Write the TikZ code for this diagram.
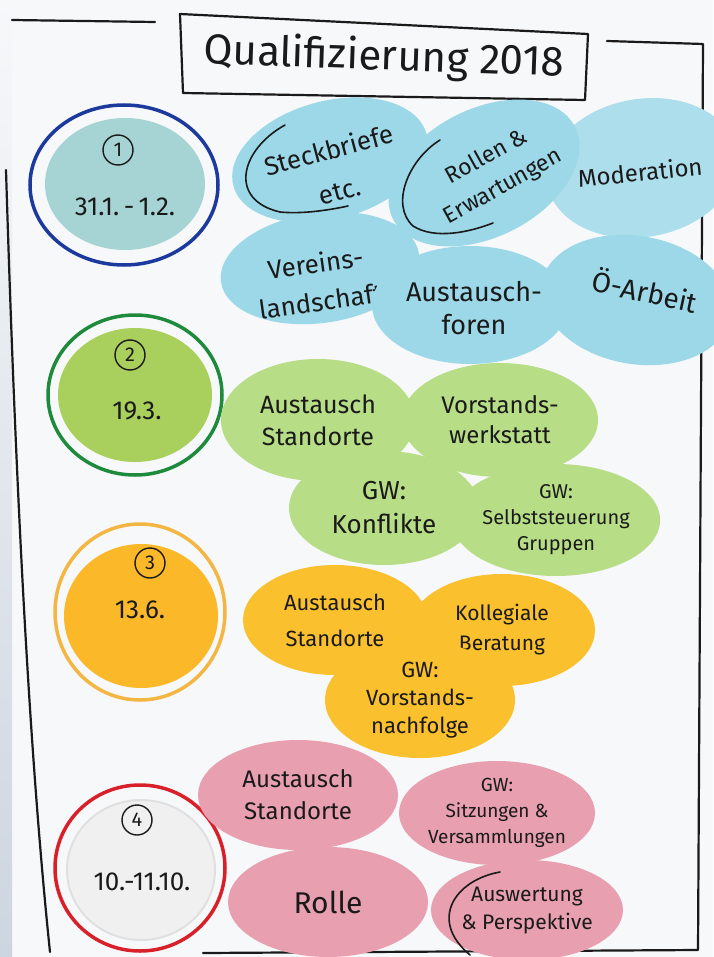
\documentclass[tikz,border=0pt]{standalone}
\usepackage{fontspec}
\setmainfont{Fira Sans}
\usetikzlibrary{shapes.geometric}

\definecolor{ink}{HTML}{1A1A1A}
\definecolor{paper}{HTML}{F7F8FA}
\definecolor{edge}{HTML}{CDD5E0}
\definecolor{cardblue}{HTML}{9DD8E8}
\definecolor{discteal}{HTML}{A6D4D4}
\definecolor{cardgreen}{HTML}{B7DD86}
\definecolor{discgreen}{HTML}{A9D05D}
\definecolor{cardorange}{HTML}{FBC02E}
\definecolor{discorange}{HTML}{FBB92A}
\definecolor{cardpink}{HTML}{E8A0B0}
\definecolor{discwhite}{HTML}{F0F0F0}
\definecolor{ringblue}{HTML}{1C3A9E}
\definecolor{ringgreen}{HTML}{1E8A3C}
\definecolor{ringorange}{HTML}{F4B643}
\definecolor{ringred}{HTML}{D8202A}

\tikzset{
  fs/.style 2 args={font=\fontsize{#1}{#2}\selectfont},
  card/.style={ellipse, inner sep=0pt, align=center, text=ink, fs={23}{29}},
  bluecard/.style={card, fill=cardblue},
  greencard/.style={card, fill=cardgreen},
  orangecard/.style={card, fill=cardorange},
  pinkcard/.style={card, fill=cardpink},
  ring/.style={ellipse, draw=#1, line width=3.5pt, inner sep=0pt},
  disc/.style={ellipse, fill=#1, inner sep=0pt},
  numbox/.style={circle, draw=ink, line width=1.4pt, inner sep=0pt,
    minimum size=30pt, text=ink, fs={20}{20}},
  datetext/.style={text=ink, fs={26}{26}},
  pen/.style={draw=ink, line width=2.2pt, line cap=round, line join=round},
  marker/.style={draw=ink, line width=1.6pt, line cap=round}
}

\begin{document}
\begin{tikzpicture}[x=1pt, y=-1pt]
    \useasboundingbox (0,0) rectangle (713,957);
    \fill[paper] (0,0) rectangle (713,957);
    \shade[top color=paper, bottom color=edge] (0,0) rectangle (12,957);

    % frame and title
    \draw[pen] (12,20) -- (155,22);
    \draw[pen] (607,41) -- (703,44) -- (698,950) -- (203,953);
    \draw[pen] (6,170) .. controls (16,500) and (30,760) .. (50,952);
    \draw[pen] (180,14) -- (588,34) -- (585,100) -- (183,93) -- cycle;
    \node[rotate=-2, text=ink, fs={42}{42}] (title) at (384,58) {Qualifizierung 2018};

    % 1
    \node[ring=ringblue, minimum width=188pt, minimum height=160pt] (ring1) at (124,185) {};
    \node[disc=discteal, minimum width=160pt, minimum height=132pt] (disc1) at (125,184) {};
    \node[numbox] (num1) at (118,150) {1};
    \node[datetext] (date1) at (125,207) {31.1.\,-\,1.2.};

    \node[bluecard, rotate=15, minimum width=200pt, minimum height=118pt] (steck) at (330,160) {};
    \node[card, rotate=15, fs={26}{42}] (stecktext) at (334,170) {Steckbriefe\\etc.};
    \draw[marker] (285,125) .. controls (240,150) and (228,200) .. (280,212)
        .. controls (300,214) and (325,211) .. (348,206);
    \node[bluecard, fill=cardblue!85!white, rotate=10, minimum width=192pt, minimum height=138pt] (moder) at (642,168) {};
    \node[card, rotate=6, fs={24}{30}] (modertext) at (640,172) {Moderation};
    \node[bluecard, rotate=27, minimum width=204pt, minimum height=128pt] (rollen) at (484,173) {};
    \node[card, rotate=29, fs={23}{34}] (rollentext) at (495,172) {Rollen \&\\Erwartungen};
    \draw[marker] (440,140) .. controls (408,160) and (390,205) .. (413,226)
        .. controls (435,240) and (470,232) .. (493,223);
    \node[bluecard, rotate=8, minimum width=200pt, minimum height=110pt] (verein) at (320,268) {};
    \node[card, rotate=8, fs={26}{38}] (vereintext) at (318,282) {Vereins-\\landschaft};
    \node[bluecard, minimum width=196pt, minimum height=118pt] (forum) at (470,305) {};
    \node[card, fs={27}{33}] (forumtext) at (474,308) {Austausch-\\foren};
    \node[bluecard, rotate=-10, minimum width=192pt, minimum height=128pt] (oearb) at (636,300) {};
    \node[card, rotate=-12, fs={28}{28}] (oearbtext) at (645,290) {Ö-Arbeit};

    % 2
    \node[ring=ringgreen, minimum width=174pt, minimum height=160pt] (ring2) at (135,395) {};
    \node[disc=discgreen, minimum width=154pt, minimum height=134pt] (disc2) at (135,395) {};
    \node[numbox] (num2) at (130,355) {2};
    \node[datetext] (date2) at (137,411) {19.3.};

    \node[greencard, fs={25}{32}, minimum width=194pt, minimum height=122pt] (stand2) at (318,420) {Austausch\\Standorte};
    \node[greencard, fs={24}{30}, minimum width=196pt, minimum height=114pt] (werk2) at (500,420) {Vorstands-\\werkstatt};
    \node[greencard, fs={26}{34}, minimum width=190pt, minimum height=114pt] (konf2) at (384,508) {GW:\\Konflikte};
    \node[greencard, fs={20}{26}, minimum width=196pt, minimum height=112pt] (selbst2) at (556,520) {GW:\\Selbststeuerung\\Gruppen};

    % 3
    \node[ring=ringorange, minimum width=170pt, minimum height=176pt] (ring3) at (140,612) {};
    \node[disc=discorange, minimum width=154pt, minimum height=144pt] (disc3) at (141,616) {};
    \node[numbox] (num3) at (150,563) {3};
    \node[datetext] (date3) at (140,610) {13.6.};

    \node[orangecard, fs={22}{36}, minimum width=184pt, minimum height=110pt] (stand3) at (335,620) {Austausch\\Standorte};
    \node[orangecard, fs={21}{30}, minimum width=186pt, minimum height=112pt] (koll3) at (502,630) {Kollegiale\\Beratung};
    \node[orangecard, fs={22}{28}, minimum width=190pt, minimum height=116pt] (nach3) at (420,700) {GW:\\Vorstands-\\nachfolge};

    % 4
    \node[ring=ringred, minimum width=170pt, minimum height=166pt] (ring4) at (140,868) {};
    \node[disc=discwhite, draw=black!12, line width=2pt, minimum width=148pt, minimum height=140pt] (disc4) at (141,870) {};
    \node[numbox] (num4) at (137,820) {4};
    \node[datetext] (date4) at (142,882) {10.-11.10.};

    \node[pinkcard, fs={24}{32}, minimum width=200pt, minimum height=110pt] (stand4) at (298,795) {Austausch\\Standorte};
    \node[pinkcard, fs={19}{26}, minimum width=196pt, minimum height=104pt] (sitz4) at (497,813) {GW:\\Sitzungen \&\\Versammlungen};
    \node[pinkcard, fs={30}{30}, minimum width=200pt, minimum height=110pt] (rolle4) at (328,902) {Rolle};
    \node[pinkcard, fs={21}{28}, minimum width=192pt, minimum height=100pt] (ausw4) at (527,910) {Auswertung\\\& Perspektive};

    \draw[marker] (500,872) .. controls (455,880) and (428,920) .. (470,955);
\end{tikzpicture}
\end{document}
